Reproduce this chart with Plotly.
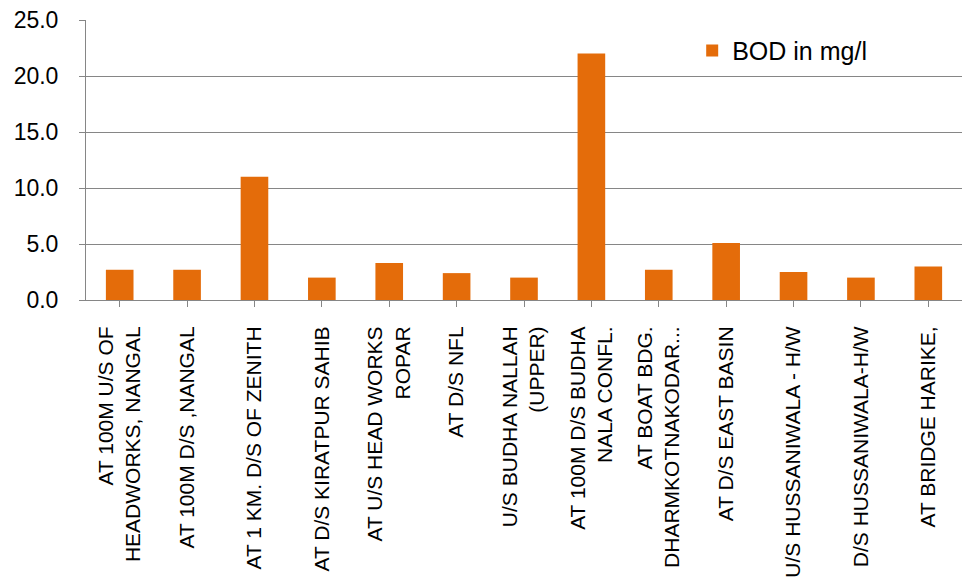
import plotly.graph_objects as go

categories = [
    "AT 100M U/S OF<br>HEADWORKS, NANGAL",
    "AT 100M D/S ,NANGAL",
    "AT 1 KM. D/S OF ZENITH",
    "AT D/S KIRATPUR SAHIB",
    "AT U/S HEAD WORKS<br>ROPAR",
    "AT D/S NFL",
    "U/S BUDHA NALLAH<br>(UPPER)",
    "AT 100M D/S BUDHA<br>NALA CONFL.",
    "AT BOAT BDG.<br>DHARMKOTNAKODAR...",
    "AT D/S EAST BASIN",
    "U/S HUSSANIWALA - H/W",
    "D/S HUSSANIWALA-H/W",
    "AT BRIDGE HARIKE,",
]
bod_values = [2.7, 2.7, 11.0, 2.0, 3.3, 2.4, 2.0, 22.0, 2.7, 5.1, 2.5, 2.0, 3.0]
y_ticks = [0, 5, 10, 15, 20, 25]

fig = go.Figure()
fig.add_trace(go.Bar(
    x=list(range(len(categories))), y=bod_values, name="BOD in mg/l",
    marker=dict(color="#E46C0A", line=dict(width=0)),
))

fig.update_layout(
    width=973, height=588,
    margin=dict(l=86, r=11, t=20, b=288),
    paper_bgcolor="white", plot_bgcolor="white",
    bargap=0.59,
    font=dict(family="Liberation Sans, Arial, sans-serif", color="black"),
    showlegend=True,
    legend=dict(x=0.692, y=0.89, xanchor="left", yanchor="middle",
                font=dict(size=25), bgcolor="rgba(0,0,0,0)",
                itemwidth=30),
    xaxis=dict(
        tickmode="array", tickvals=list(range(len(categories))), ticktext=categories,
        range=[-0.5, len(categories) - 0.5],
        tickangle=-90, tickfont=dict(size=21),
        showline=True, linecolor="#868686", linewidth=1,
        ticks="outside", ticklen=6, tickcolor="#868686", tickson="boundaries",
        ticklabelstandoff=11,
        showgrid=False, zeroline=False, automargin=False,
    ),
    yaxis=dict(
        range=[0, 25], tickmode="array", tickvals=y_ticks,
        ticktext=[f"{v:.1f}" for v in y_ticks], tickfont=dict(size=23),
        showline=True, linecolor="#868686", linewidth=1,
        ticks="outside", ticklen=6, tickcolor="#868686",
        ticklabelstandoff=16,
        showgrid=True, gridcolor="#868686", gridwidth=1,
        zeroline=False, automargin=False,
    ),
)

fig.write_html("out.html")
